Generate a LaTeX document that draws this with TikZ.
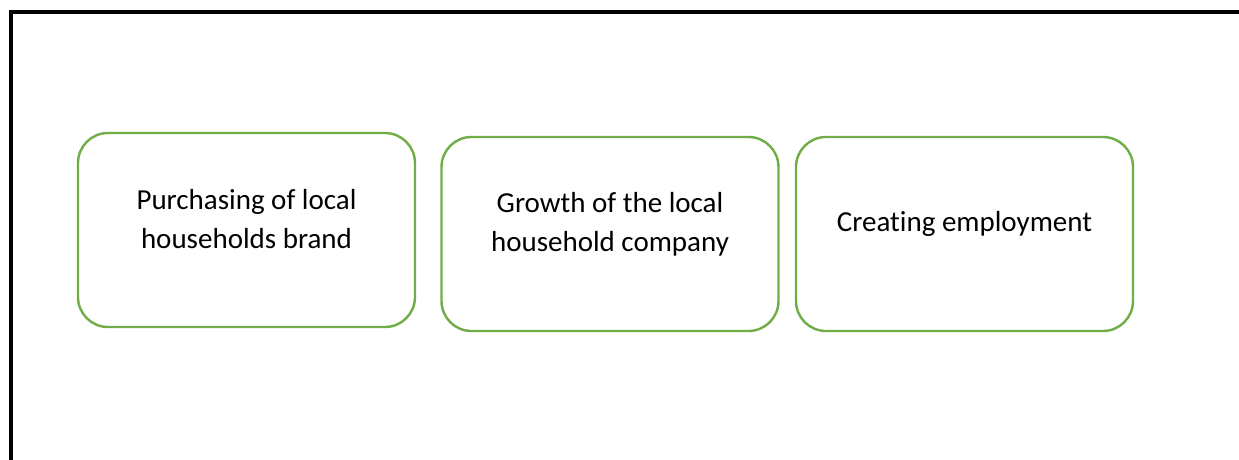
\documentclass[tikz,border=0pt]{standalone}
\usepackage{fontspec}
\setmainfont{Carlito}[Ligatures=NoCommon]
\definecolor{boxgreen}{HTML}{70AD47}
\begin{document}
\begin{tikzpicture}[x=1pt,y=-1pt,
  box/.style={draw=boxgreen,line width=2.4pt,rounded corners=30pt,minimum width=337pt,minimum height=194pt,inner sep=0pt},
  lbl/.style={align=center,font=\fontsize{29}{39}\selectfont,text=black}]
\useasboundingbox (0,0) rectangle (1239,460);
\coordinate (tl) at (10.5,12);
\coordinate (bl) at (10.5,460);
\coordinate (tr) at (1239,12);
\draw[line width=4pt] (bl) -- (tl) -- (tr);
\node[box] (b1) at (246.5,230) {};
\node[box] (b2) at (610,234) {};
\node[box] (b3) at (964.5,234) {};
\node[lbl] (t1) at ([yshift=11pt]b1.center) {Purchasing of local\\households brand};
\node[lbl] (t2) at ([yshift=10pt]b2.center) {Growth of the local\\household company};
\node[lbl] (t3) at ([yshift=10pt]b3.center) {Creating employment};
\end{tikzpicture}
\end{document}
